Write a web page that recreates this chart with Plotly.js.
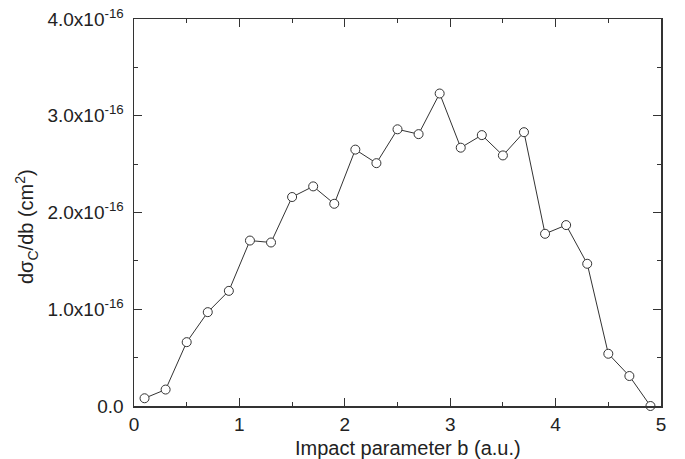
<!DOCTYPE html>
<html>
<head>
<meta charset="utf-8">
<script src="https://cdn.plot.ly/plotly-3.0.1.min.js"></script>
<style>html,body{margin:0;padding:0;background:#fff;}#chart{width:685px;height:459px;}</style>
</head>
<body>
<div id="chart"></div>
<script>
// Impact parameter b (a.u.)
const impactParameter = [0.1,0.3,0.5,0.7,0.9,1.1,1.3,1.5,1.7,1.9,2.1,2.3,2.5,2.7,2.9,3.1,3.3,3.5,3.7,3.9,4.1,4.3,4.5,4.7,4.9];
// dsigma_C/db in units of 1e-16 cm^2
const crossSection = [0.08,0.17,0.66,0.97,1.19,1.71,1.69,2.16,2.27,2.09,2.65,2.51,2.86,2.81,3.23,2.67,2.80,2.59,2.83,1.78,1.87,1.47,0.54,0.31,0.0];
const yTickVals = [0,1e-16,2e-16,3e-16,4e-16];
const yTickText = ['0.0','1.0x10<sup>-16</sup>','2.0x10<sup>-16</sup>','3.0x10<sup>-16</sup>','4.0x10<sup>-16</sup>'];
const xTickVals = [0,1,2,3,4,5];
const xTitle = 'Impact parameter b (a.u.)';
const yTitle = 'dσ<sub>C</sub>/db (cm<sup>2</sup>)';

const fam = 'Liberation Sans, Arial, sans-serif';
const tickFont = {family:fam, size:19, color:'#222'};
const titleFont = {family:fam, size:20, color:'#222'};
const trace = {
  x: impactParameter,
  y: crossSection.map(v => v*1e-16),
  type:'scatter', mode:'lines+markers',
  line:{color:'#333', width:1},
  marker:{symbol:'circle', size:9, color:'#fff', line:{color:'#333', width:1}},
  cliponaxis:false,
  hoverinfo:'none'
};
const layout = {
  width:685, height:459,
  margin:{l:134, r:24, t:19, b:53},
  paper_bgcolor:'#fff', plot_bgcolor:'#fff',
  showlegend:false,
  font: tickFont,
  xaxis:{
    range:[0,5], tickvals:xTickVals, ticks:'inside', ticklen:8, tickwidth:1.2, tickcolor:'#333',
    mirror:'ticks', showline:true, linecolor:'#333', linewidth:1.5, showgrid:false, zeroline:false,
    minor:{dtick:0.5, ticks:'inside', ticklen:4, tickcolor:'#333', tickwidth:1, showgrid:false},
    tickfont:tickFont, ticklabelstandoff:1
  },
  yaxis:{
    range:[0,4e-16], tickvals:yTickVals, ticktext:yTickText, ticks:'inside', ticklen:8, tickwidth:1.2, tickcolor:'#333',
    mirror:'ticks', showline:true, linecolor:'#333', linewidth:1.5, showgrid:false, zeroline:false,
    minor:{dtick:0.5e-16, ticks:'inside', ticklen:4, tickcolor:'#333', tickwidth:1, showgrid:false},
    tickfont:tickFont, ticklabelstandoff:5
  },
  annotations:[
    {text:xTitle, xref:'paper', yref:'paper', x:0.52, y:-0.075, xanchor:'center', yanchor:'top', showarrow:false, font:titleFont},
    {text:yTitle, xref:'paper', yref:'paper', x:-0.205, y:0.465, xanchor:'center', yanchor:'middle', textangle:-90, showarrow:false, font:titleFont}
  ]
};
Plotly.newPlot('chart',[trace],layout,{staticPlot:true});
</script>
</body>
</html>
